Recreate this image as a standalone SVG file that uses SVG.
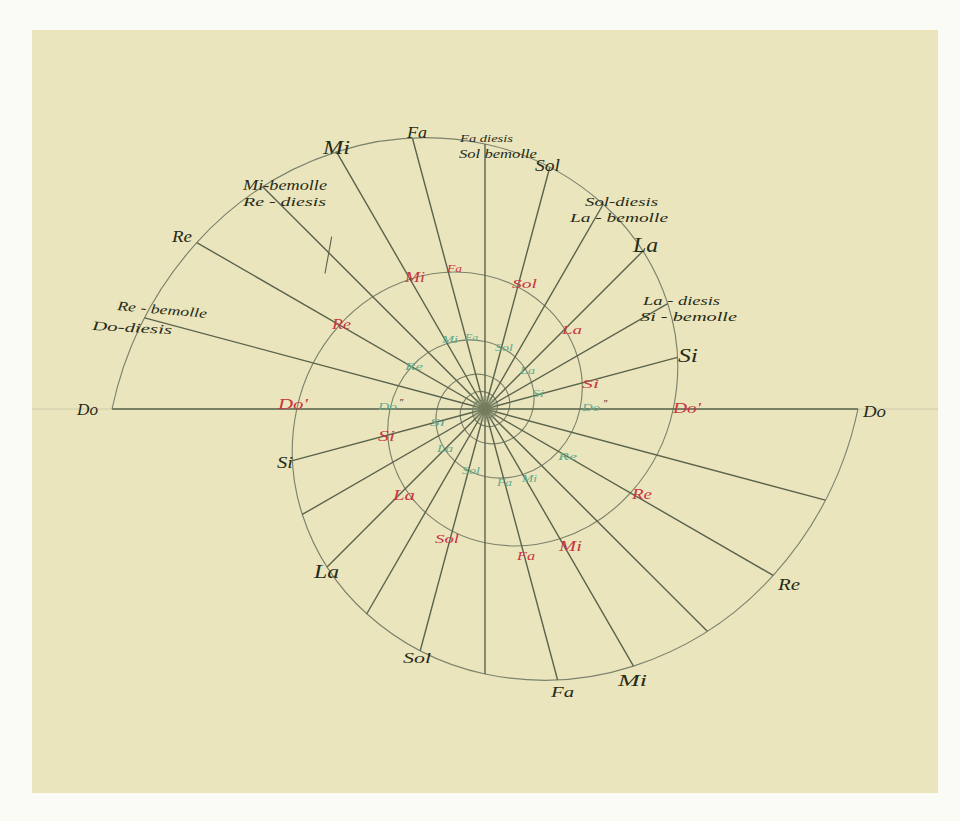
<svg xmlns="http://www.w3.org/2000/svg" width="960" height="821" viewBox="0 0 960 821">
<style>
.paper{fill:#EBE5BD}
.sp{fill:none;stroke:#7b836d;stroke-width:1.15}
.rad{stroke:#5a634c;stroke-width:1.4;fill:none}
.faint{stroke:#9aa08a;stroke-width:0.8;opacity:0.45}
text{font-family:"Liberation Serif","DejaVu Serif",serif;font-style:italic}
.bk{fill:#262b18}
.rd{fill:#c8363f}
.gr{fill:#5fab8d}
</style>
<rect x="0" y="0" width="960" height="821" fill="#FBFBF5"/>
<rect class="paper" x="32" y="30" width="906" height="763"/>
<line class="faint" x1="32" y1="409" x2="938" y2="409"/>

<g id="spirals">
<path id="spiral1" class="sp" d="M112,409 A360.6,360.6 0 0 1 196.77,242.59 A321.7,321.7 0 0 1 336.52,151.83 A287.1,287.1 0 0 1 485,144.03 A256.1,256.1 0 0 1 603.21,204.25 A228.5,228.5 0 0 1 667.69,303.52 A203.9,203.9 0 0 1 673.23,409 A182,182 0 0 1 630.45,492.98 A162.4,162.4 0 0 1 559.93,538.78 A144.9,144.9 0 0 1 485,542.71 A129.3,129.3 0 0 1 425.34,512.33 A115.3,115.3 0 0 1 392.8,462.23 A102.9,102.9 0 0 1 390.01,409 A91.8,91.8 0 0 1 411.6,366.62 A81.9,81.9 0 0 1 447.19,343.51 A73.1,73.1 0 0 1 485,341.53 A65.2,65.2 0 0 1 515.1,356.87 A58.2,58.2 0 0 1 531.52,382.14 A51.9,51.9 0 0 1 532.93,409 A46.3,46.3 0 0 1 522.04,430.39 A41.3,41.3 0 0 1 504.08,442.05 A36.9,36.9 0 0 1 485,443.05 A32.9,32.9 0 0 1 469.81,435.31 A29.4,29.4 0 0 1 461.52,422.56 A26.2,26.2 0 0 1 460.81,409 A23.4,23.4 0 0 1 466.31,398.21 A20.9,20.9 0 0 1 475.37,392.32 A18.6,18.6 0 0 1 485,391.82 A16.6,16.6 0 0 1 492.67,395.72 A14.8,14.8 0 0 1 496.85,402.16 A13.2,13.2 0 0 1 497.21,409 A11.8,11.8 0 0 1 494.43,414.45 A10.5,10.5 0 0 1 489.86,417.42 A9.4,9.4 0 0 1 485,417.67"/>
<path id="spiral2" class="sp" d="M858,409 A360.6,360.6 0 0 1 773.23,575.41 A321.7,321.7 0 0 1 633.48,666.17 A287.1,287.1 0 0 1 485,673.97 A256.1,256.1 0 0 1 366.79,613.75 A228.5,228.5 0 0 1 302.31,514.48 A203.9,203.9 0 0 1 296.77,409 A182,182 0 0 1 339.55,325.02 A162.4,162.4 0 0 1 410.07,279.22 A144.9,144.9 0 0 1 485,275.29 A129.3,129.3 0 0 1 544.66,305.67 A115.3,115.3 0 0 1 577.2,355.77 A102.9,102.9 0 0 1 579.99,409 A91.8,91.8 0 0 1 558.4,451.38 A81.9,81.9 0 0 1 522.81,474.49 A73.1,73.1 0 0 1 485,476.47 A65.2,65.2 0 0 1 454.9,461.13 A58.2,58.2 0 0 1 438.48,435.86 A51.9,51.9 0 0 1 437.07,409 A46.3,46.3 0 0 1 447.96,387.61 A41.3,41.3 0 0 1 465.92,375.95 A36.9,36.9 0 0 1 485,374.95 A32.9,32.9 0 0 1 500.19,382.69 A29.4,29.4 0 0 1 508.48,395.44 A26.2,26.2 0 0 1 509.19,409 A23.4,23.4 0 0 1 503.69,419.79 A20.9,20.9 0 0 1 494.63,425.68 A18.6,18.6 0 0 1 485,426.18 A16.6,16.6 0 0 1 477.33,422.28 A14.8,14.8 0 0 1 473.15,415.84 A13.2,13.2 0 0 1 472.79,409 A11.8,11.8 0 0 1 475.57,403.55 A10.5,10.5 0 0 1 480.14,400.58 A9.4,9.4 0 0 1 485,400.33"/>
</g>

<g id="radials" class="rad">
<line x1="112" y1="409" x2="858" y2="409" stroke-width="1.7"/>
<line x1="485" y1="409" x2="144.68" y2="317.82"/>
<line x1="485" y1="409" x2="196.77" y2="242.59"/>
<line x1="485" y1="409" x2="262.7" y2="186.7"/>
<line x1="485" y1="409" x2="336.52" y2="151.83"/>
<line x1="485" y1="409" x2="412.4" y2="138.05"/>
<line x1="485" y1="409" x2="485" y2="144.03"/>
<line x1="485" y1="409" x2="549.78" y2="167.24"/>
<line x1="485" y1="409" x2="603.21" y2="204.25"/>
<line x1="485" y1="409" x2="642.91" y2="251.09"/>
<line x1="485" y1="409" x2="667.69" y2="303.52"/>
<line x1="485" y1="409" x2="677.47" y2="357.43"/>
<line x1="485" y1="409" x2="825.32" y2="500.18"/>
<line x1="485" y1="409" x2="773.23" y2="575.41"/>
<line x1="485" y1="409" x2="707.3" y2="631.3"/>
<line x1="485" y1="409" x2="633.48" y2="666.17"/>
<line x1="485" y1="409" x2="557.6" y2="679.95"/>
<line x1="485" y1="409" x2="485" y2="673.97"/>
<line x1="485" y1="409" x2="420.22" y2="650.76"/>
<line x1="485" y1="409" x2="366.79" y2="613.75"/>
<line x1="485" y1="409" x2="327.09" y2="566.91"/>
<line x1="485" y1="409" x2="302.31" y2="514.48"/>
<line x1="485" y1="409" x2="292.53" y2="460.57"/>
<line x1="331.7" y1="236.7" x2="325" y2="273.3" stroke-width="1.1"/>
</g>
<g id="center">
<circle cx="485" cy="409" r="13" fill="#8a9474" opacity="0.45"/>
<circle cx="485" cy="409" r="7" fill="#737e5e" opacity="0.7"/>
</g>

<g id="labels-outer" class="bk">
<text x="77" y="415" font-size="17" textLength="21" lengthAdjust="spacingAndGlyphs">Do</text>
<text x="117" y="310" font-size="13" textLength="90" lengthAdjust="spacingAndGlyphs" transform="rotate(5 117 310)">Re - bemolle</text>
<text x="92" y="330" font-size="13" textLength="80" lengthAdjust="spacingAndGlyphs" transform="rotate(3 92 330)">Do-diesis</text>
<text x="172" y="242" font-size="16" textLength="20" lengthAdjust="spacingAndGlyphs">Re</text>
<text x="243" y="190" font-size="14" textLength="84" lengthAdjust="spacingAndGlyphs">Mi-bemolle</text>
<text x="243" y="206" font-size="13" textLength="83" lengthAdjust="spacingAndGlyphs">Re - diesis</text>
<text x="323" y="154" font-size="18" textLength="27" lengthAdjust="spacingAndGlyphs">Mi</text>
<text x="407" y="138" font-size="16" textLength="20" lengthAdjust="spacingAndGlyphs">Fa</text>
<text x="460" y="142" font-size="11" textLength="53" lengthAdjust="spacingAndGlyphs">Fa diesis</text>
<text x="459" y="158" font-size="12" textLength="78" lengthAdjust="spacingAndGlyphs">Sol bemolle</text>
<text x="535" y="171" font-size="16" textLength="25" lengthAdjust="spacingAndGlyphs">Sol</text>
<text x="585" y="206" font-size="12" textLength="73" lengthAdjust="spacingAndGlyphs">Sol-diesis</text>
<text x="570" y="222" font-size="13" textLength="98" lengthAdjust="spacingAndGlyphs">La - bemolle</text>
<text x="633" y="252" font-size="20" textLength="25" lengthAdjust="spacingAndGlyphs">La</text>
<text x="643" y="305" font-size="13" textLength="77" lengthAdjust="spacingAndGlyphs">La - diesis</text>
<text x="640" y="321" font-size="13" textLength="97" lengthAdjust="spacingAndGlyphs">Si - bemolle</text>
<text x="678" y="362" font-size="18" textLength="20" lengthAdjust="spacingAndGlyphs">Si</text>
<text x="863" y="417" font-size="17" textLength="23" lengthAdjust="spacingAndGlyphs">Do</text>
<text x="778" y="590" font-size="16" textLength="22" lengthAdjust="spacingAndGlyphs">Re</text>
<text x="618" y="686" font-size="17" textLength="29" lengthAdjust="spacingAndGlyphs">Mi</text>
<text x="551" y="697" font-size="15" textLength="23" lengthAdjust="spacingAndGlyphs">Fa</text>
<text x="403" y="663" font-size="15" textLength="28" lengthAdjust="spacingAndGlyphs">Sol</text>
<text x="314" y="578" font-size="18" textLength="25" lengthAdjust="spacingAndGlyphs">La</text>
<text x="277" y="468" font-size="16" textLength="16" lengthAdjust="spacingAndGlyphs">Si</text>
</g>

<g id="labels-red" class="rd">
<text x="278" y="409" font-size="15" textLength="30" lengthAdjust="spacingAndGlyphs">Do'</text>
<text x="332" y="329" font-size="14" textLength="19" lengthAdjust="spacingAndGlyphs">Re</text>
<text x="405" y="282" font-size="14" textLength="20" lengthAdjust="spacingAndGlyphs">Mi</text>
<text x="447" y="272" font-size="11" textLength="15" lengthAdjust="spacingAndGlyphs">Fa</text>
<text x="512" y="288" font-size="13" textLength="25" lengthAdjust="spacingAndGlyphs">Sol</text>
<text x="562" y="334" font-size="13" textLength="20" lengthAdjust="spacingAndGlyphs">La</text>
<text x="582" y="388" font-size="13" textLength="17" lengthAdjust="spacingAndGlyphs">Si</text>
<text x="673" y="413" font-size="14" textLength="28" lengthAdjust="spacingAndGlyphs">Do'</text>
<text x="378" y="441" font-size="14" textLength="17" lengthAdjust="spacingAndGlyphs">Si</text>
<text x="393" y="500" font-size="14" textLength="22" lengthAdjust="spacingAndGlyphs">La</text>
<text x="435" y="543" font-size="13" textLength="24" lengthAdjust="spacingAndGlyphs">Sol</text>
<text x="517" y="560" font-size="12" textLength="18" lengthAdjust="spacingAndGlyphs">Fa</text>
<text x="559" y="551" font-size="14" textLength="23" lengthAdjust="spacingAndGlyphs">Mi</text>
<text x="632" y="499" font-size="14" textLength="20" lengthAdjust="spacingAndGlyphs">Re</text>
</g>

<g id="labels-green" class="gr">
<text x="405" y="370" font-size="11" textLength="18" lengthAdjust="spacingAndGlyphs">Re</text>
<text x="442" y="343" font-size="10" textLength="16" lengthAdjust="spacingAndGlyphs">Mi</text>
<text x="465" y="341" font-size="10" textLength="13" lengthAdjust="spacingAndGlyphs">Fa</text>
<text x="495" y="351" font-size="10" textLength="18" lengthAdjust="spacingAndGlyphs">Sol</text>
<text x="520" y="374" font-size="10" textLength="15" lengthAdjust="spacingAndGlyphs">La</text>
<text x="532" y="397" font-size="10" textLength="12" lengthAdjust="spacingAndGlyphs">Si</text>
<text x="582" y="411" font-size="11" textLength="18" lengthAdjust="spacingAndGlyphs">Do</text>
<text x="378" y="410" font-size="11" textLength="19" lengthAdjust="spacingAndGlyphs">Do</text>
<text x="430" y="426" font-size="10" textLength="15" lengthAdjust="spacingAndGlyphs">Si</text>
<text x="437" y="452" font-size="10" textLength="16" lengthAdjust="spacingAndGlyphs">La</text>
<text x="462" y="474" font-size="10" textLength="18" lengthAdjust="spacingAndGlyphs">Sol</text>
<text x="497" y="486" font-size="10" textLength="15" lengthAdjust="spacingAndGlyphs">Fa</text>
<text x="522" y="482" font-size="10" textLength="15" lengthAdjust="spacingAndGlyphs">Mi</text>
<text x="558" y="460" font-size="11" textLength="19" lengthAdjust="spacingAndGlyphs">Re</text>
</g>
<g id="labels-quotes" class="bk">
<text x="603" y="407" font-size="10">"</text>
<text x="399" y="406" font-size="10">"</text>
</g>
</svg>
